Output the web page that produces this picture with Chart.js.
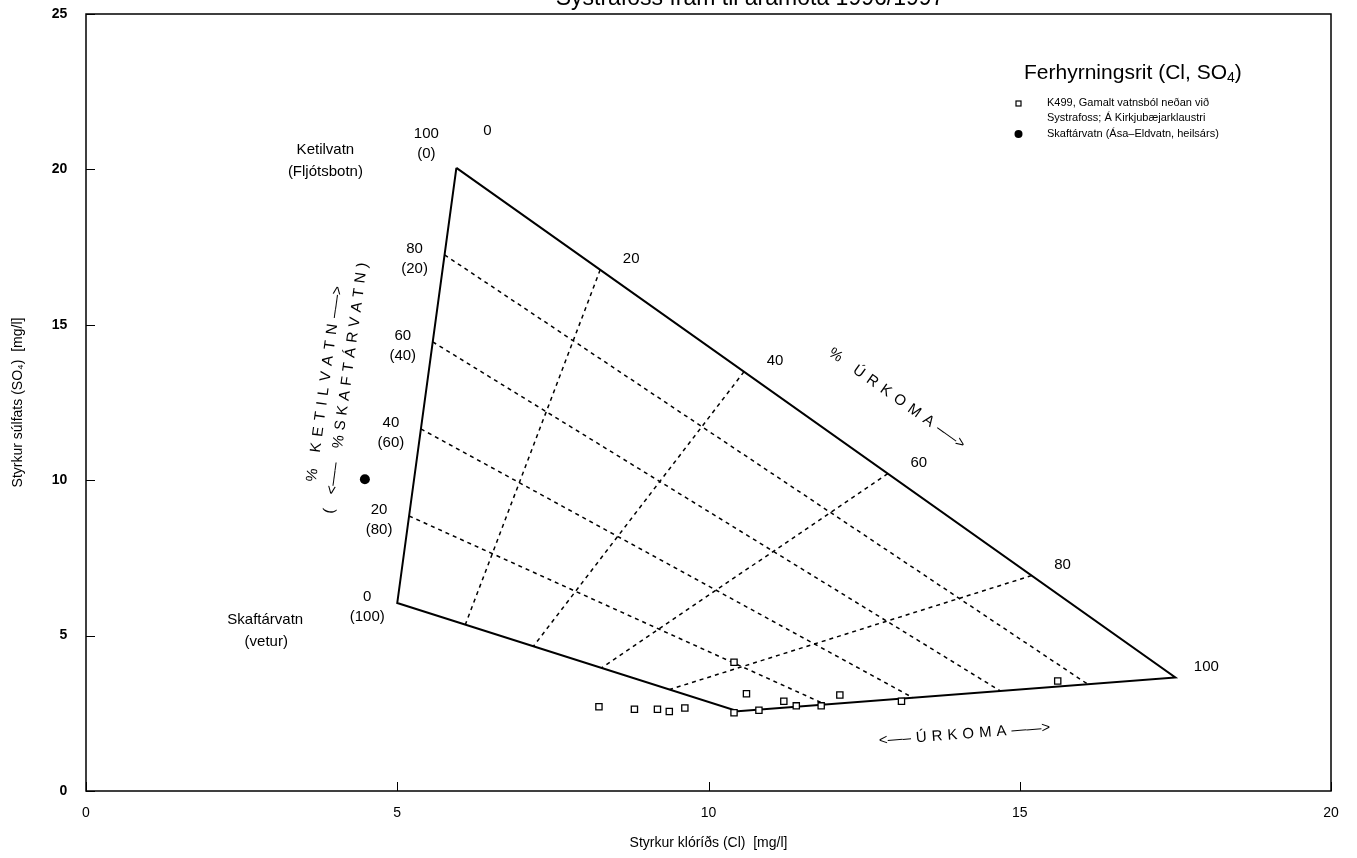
<!DOCTYPE html>
<html>
<head>
<meta charset="utf-8">
<script src="https://cdn.jsdelivr.net/npm/chart.js@4.4.1/dist/chart.umd.min.js"></script>
<style>
  html, body { margin: 0; padding: 0; background: #ffffff; }
  #wrap { width: 1357px; height: 858px; }
</style>
</head>
<body>
<div id="wrap"><canvas id="chart" width="1357" height="858"></canvas></div>
<script>
// Corners of the mixing quadrilateral, [Cl, SO4] in mg/l
const cornerKetilvatn   = [5.95, 20.05];  // 100 % Ketilvatn, 0 % úrkoma
const cornerSkaftarvatn = [5.0, 6.05];    // 100 % Skaftárvatn, 0 % úrkoma
const cornerRainLow     = [10.47, 2.57];  // 0 % Ketilvatn, 100 % úrkoma
const cornerRainHigh    = [17.5, 3.65];   // 100 % Ketilvatn, 100 % úrkoma

// Percent steps for the inner (dashed) grid and for the edge labels
const gridSteps = [20, 40, 60, 80];
const edgeSteps = [0, 20, 40, 60, 80, 100];

// K499, Gamalt vatnsból neðan við Systrafoss
const k499Cl  = [8.24, 8.81, 9.18, 9.37, 9.62, 10.41, 10.41, 10.61, 10.81, 11.21, 11.41, 11.81, 12.11, 13.10, 15.61];
const k499SO4 = [2.71, 2.63, 2.63, 2.56, 2.67, 4.14, 2.52, 3.13, 2.60, 2.89, 2.74, 2.74, 3.09, 2.89, 3.54];

// Skaftárvatn (Ása-Eldvatn, heilsárs)
const skaftaCl  = [4.48];
const skaftaSO4 = [10.03];

// Axis ticks
const xTicks = [0, 5, 10, 15, 20];
const yTicks = [0, 5, 10, 15, 20, 25];

const FONT = "'Liberation Sans', Arial, Helvetica, sans-serif";

// Bilinear mixing: k = Ketilvatn fraction, u = úrkoma fraction
function mix(k, u) {
  const out = [0, 0];
  for (let i = 0; i < 2; i++) {
    const dry = (1 - k) * cornerSkaftarvatn[i] + k * cornerKetilvatn[i];
    const wet = (1 - k) * cornerRainLow[i] + k * cornerRainHigh[i];
    out[i] = (1 - u) * dry + u * wet;
  }
  return { x: out[0], y: out[1] };
}

const toPoints = (xs, ys) => xs.map((x, i) => ({ x: x, y: ys[i] }));

const datasets = [];

datasets.push({
  label: 'K499, Gamalt vatnsból neðan við Systrafoss; Á Kirkjubæjarklaustri',
  data: toPoints(k499Cl, k499SO4),
  pointStyle: 'rect',
  pointRadius: 4.4,
  pointBorderWidth: 1.3,
  pointBackgroundColor: '#ffffff',
  pointBorderColor: '#000000',
  showLine: false
});

datasets.push({
  label: 'Skaftárvatn (Ása–Eldvatn, heilsárs)',
  data: toPoints(skaftaCl, skaftaSO4),
  pointStyle: 'circle',
  pointRadius: 5,
  pointBorderWidth: 0,
  pointBackgroundColor: '#000000',
  pointBorderColor: '#000000',
  showLine: false
});

// Dashed lines of constant Ketilvatn share
gridSteps.forEach(p => {
  datasets.push({
    label: 'k' + p,
    data: [mix(p / 100, 0), mix(p / 100, 1)],
    showLine: true, pointRadius: 0,
    borderColor: '#000', borderWidth: 1.5, borderDash: [4, 4]
  });
});
// Dashed lines of constant úrkoma share
gridSteps.forEach(p => {
  datasets.push({
    label: 'u' + p,
    data: [mix(1, p / 100), mix(0, p / 100)],
    showLine: true, pointRadius: 0,
    borderColor: '#000', borderWidth: 1.5, borderDash: [4, 4]
  });
});

// Outline of the quadrilateral
datasets.push({
  label: 'outline',
  data: [mix(1, 0), mix(0, 0), mix(0, 1), mix(1, 1), mix(1, 0)],
  showLine: true, pointRadius: 0,
  borderColor: '#000', borderWidth: 2
});

function spacedText(ctx, tokens, x, y, angle, spacing) {
  ctx.save();
  ctx.translate(x, y);
  ctx.rotate(angle);
  ctx.textAlign = 'left';
  ctx.textBaseline = 'middle';
  const widths = tokens.map(t => ctx.measureText(t).width);
  const total = widths.reduce((a, b) => a + b, 0) + spacing * (tokens.length - 1);
  let cx = -total / 2;
  tokens.forEach((t, i) => { ctx.fillText(t, cx, 0); cx += widths[i] + spacing; });
  ctx.restore();
}

const diagramPlugin = {
  id: 'diagram',
  afterDraw(chart) {
    const { ctx, chartArea: a, scales: { x, y } } = chart;
    const px = p => ({ x: x.getPixelForValue(p.x), y: y.getPixelForValue(p.y) });

    ctx.save();
    // frame
    ctx.strokeStyle = '#000';
    ctx.lineWidth = 1.5;
    ctx.strokeRect(a.left, a.top, a.right - a.left, a.bottom - a.top);
    // inner tick marks
    ctx.lineWidth = 1;
    ctx.beginPath();
    xTicks.forEach(v => {
      const xp = Math.round(x.getPixelForValue(v)) + 0.5;
      ctx.moveTo(xp, a.bottom); ctx.lineTo(xp, a.bottom - 9);
    });
    yTicks.forEach(v => {
      const yp = Math.round(y.getPixelForValue(v)) + 0.5;
      ctx.moveTo(a.left, yp); ctx.lineTo(a.left + 9, yp);
    });
    ctx.stroke();

    ctx.fillStyle = '#000';
    ctx.textAlign = 'center';
    ctx.textBaseline = 'middle';
    ctx.font = '15px ' + FONT;

    // labels along the left edge: % Ketilvatn and (% Skaftárvatn)
    edgeSteps.forEach(k => {
      const p = px(mix(k / 100, 0));
      const cy = p.y + (k === 100 ? -24 : 4);
      ctx.fillText(String(k), p.x - 30, cy - 10);
      ctx.fillText('(' + (100 - k) + ')', p.x - 30, cy + 10);
    });
    // labels along the upper edge: % úrkoma
    edgeSteps.forEach(u => {
      const p = px(mix(1, u / 100));
      const dy = u === 0 ? -37 : -11;
      ctx.fillText(String(u), p.x + 31, p.y + dy);
    });

    // end-member names
    const pK = px(mix(1, 0));
    ctx.fillText('Ketilvatn', pK.x - 131, pK.y - 18);
    ctx.fillText('(Fljótsbotn)', pK.x - 131, pK.y + 4);
    const pS = px(mix(0, 0));
    ctx.fillText('Skaftárvatn', pS.x - 132, pS.y + 17);
    ctx.fillText('(vetur)', pS.x - 131, pS.y + 39);

    // captions along the edges
    const pD = px(mix(1, 1));
    const pC = px(mix(0, 1));
    const topAngle = Math.atan2(pD.y - pK.y, pD.x - pK.x);
    const midTop = px(mix(1, 0.5));
    spacedText(ctx, ['%', ' ', 'Ú', 'R', 'K', 'O', 'M', 'A', '–—>'],
      midTop.x + 81, midTop.y - 24, topAngle, 6);

    const botAngle = Math.atan2(pD.y - pC.y, pD.x - pC.x);
    const midBot = px(mix(0.5, 1));
    spacedText(ctx, ['<—–', 'Ú', 'R', 'K', 'O', 'M', 'A', '——>'],
      midBot.x + 8, midBot.y + 40, botAngle, 5);

    const leftAngle = Math.atan2(pK.y - pS.y, pK.x - pS.x);
    spacedText(ctx, ['%', ' ', 'K', 'E', 'T', 'I', 'L', 'V', 'A', 'T', 'N', '–—>'],
      325, 384, leftAngle, 6);
    spacedText(ctx, ['(', ' ', '<—–', ' ', '%', 'S', 'K', 'A', 'F', 'T', 'Á', 'R', 'V', 'A', 'T', 'N', ')'],
      346, 388, leftAngle, 5);

    // diagram heading
    ctx.textAlign = 'left';
    ctx.textBaseline = 'alphabetic';
    ctx.font = '21px ' + FONT;
    const head = 'Ferhyrningsrit (Cl, SO';
    const hx = 1024, hy = 79;
    ctx.fillText(head, hx, hy);
    let w = ctx.measureText(head).width;
    ctx.font = '14px ' + FONT;
    ctx.fillText('4', hx + w, hy + 3);
    w += ctx.measureText('4').width;
    ctx.font = '21px ' + FONT;
    ctx.fillText(')', hx + w, hy);

    // legend
    ctx.font = '11px ' + FONT;
    ctx.textBaseline = 'middle';
    ctx.lineWidth = 1.2;
    ctx.strokeStyle = '#000';
    ctx.fillStyle = '#fff';
    ctx.fillRect(1016, 101, 5, 5);
    ctx.strokeRect(1016, 101, 5, 5);
    ctx.fillStyle = '#000';
    ctx.fillText('K499, Gamalt vatnsból neðan við', 1047, 103);
    ctx.fillText('Systrafoss; Á Kirkjubæjarklaustri', 1047, 118);
    ctx.beginPath();
    ctx.arc(1018.5, 134, 4, 0, Math.PI * 2);
    ctx.fill();
    ctx.fillText('Skaftárvatn (Ása–Eldvatn, heilsárs)', 1047, 134);

    // page heading, running off the top edge
    ctx.font = '23px ' + FONT;
    ctx.textAlign = 'center';
    ctx.textBaseline = 'alphabetic';
    ctx.fillText('Systrafoss fram til áramóta 1996/1997', 750, 5);
    ctx.restore();
  }
};

new Chart(document.getElementById('chart').getContext('2d'), {
  type: 'scatter',
  data: { datasets: datasets },
  options: {
    responsive: false,
    animation: false,
    devicePixelRatio: 1,
    layout: { padding: { top: 0, right: 26, left: 0, bottom: 0 } },
    plugins: { legend: { display: false }, tooltip: { enabled: false } },
    scales: {
      x: {
        type: 'linear', min: 0, max: 20,
        afterBuildTicks: s => { s.ticks = xTicks.map(v => ({ value: v })); },
        grid: { display: false, drawTicks: true, tickLength: 8 },
        border: { display: false },
        ticks: { color: '#000', padding: 6, font: { family: FONT, size: 14 } },
        title: {
          display: true, text: 'Styrkur klóríðs (Cl)  [mg/l]', color: '#000',
          font: { family: FONT, size: 14 }, padding: { top: 0, bottom: 6 }
        },
        afterFit: s => { s.height = 67; }
      },
      y: {
        type: 'linear', min: 0, max: 25,
        afterBuildTicks: s => { s.ticks = yTicks.map(v => ({ value: v })); },
        grid: { display: false, drawTicks: true, tickLength: 13 },
        border: { display: false },
        ticks: { color: '#000', padding: 5.6, font: { family: FONT, size: 14, weight: 'bold' } },
        title: {
          display: true, text: 'Styrkur súlfats (SO₄)  [mg/l]', color: '#000',
          font: { family: FONT, size: 14 }, padding: { top: 10, bottom: 0 }
        },
        afterFit: s => { s.width = 86; }
      }
    }
  },
  plugins: [diagramPlugin]
});
</script>
</body>
</html>
